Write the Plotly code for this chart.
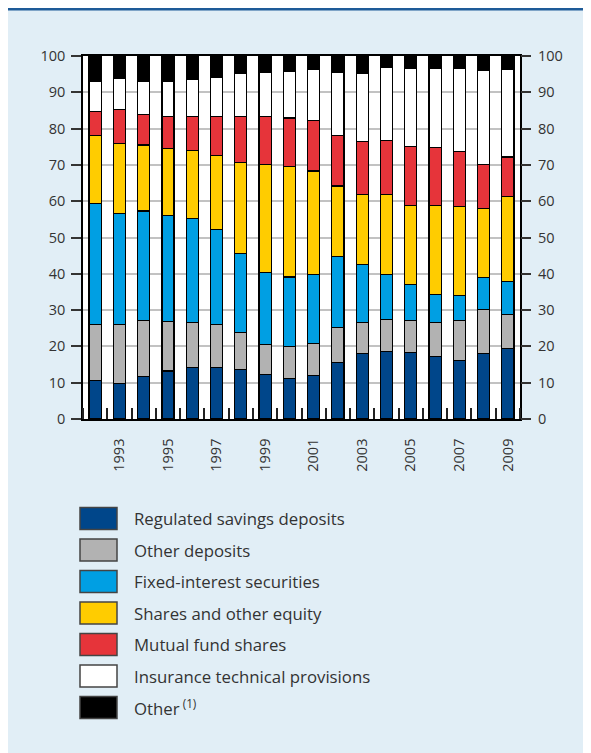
import plotly.graph_objects as go

years = list(range(1992, 2010))
series_names = [
    "Regulated savings deposits",
    "Other deposits",
    "Fixed-interest securities",
    "Shares and other equity",
    "Mutual fund shares",
    "Insurance technical provisions",
    "Other<sup> (1)</sup>",
]
regulated = [10.6, 9.8, 11.7, 13.2, 14.2, 14.2, 13.7, 12.3, 11.2, 11.9, 15.6, 18.0, 18.6, 18.3, 17.3, 16.1, 18.0, 19.4]
other_dep = [15.5, 16.3, 15.5, 13.7, 12.3, 11.8, 10.2, 8.3, 8.7, 9.0, 9.6, 8.5, 8.8, 8.8, 9.2, 11.1, 12.1, 9.4]
fixed_int = [33.3, 30.6, 30.1, 29.2, 28.7, 26.3, 21.7, 19.7, 19.2, 19.0, 19.5, 16.1, 12.4, 10.0, 7.8, 6.8, 8.9, 9.0]
shares = [18.7, 19.2, 18.2, 18.5, 18.8, 20.2, 25.0, 29.9, 30.4, 28.4, 19.5, 19.3, 22.1, 21.7, 24.5, 24.6, 19.0, 23.5]
mutual = [6.6, 9.3, 8.4, 8.7, 9.4, 10.8, 12.8, 13.1, 13.4, 13.9, 13.9, 14.5, 14.8, 16.2, 16.1, 15.0, 12.2, 10.9]
insurance = [8.4, 8.7, 9.1, 9.7, 10.2, 10.7, 11.9, 12.3, 12.9, 14.1, 17.4, 18.9, 20.1, 21.7, 21.8, 23.0, 25.7, 24.0]
other = [6.9, 6.1, 7.0, 7.0, 6.4, 6.0, 4.7, 4.4, 4.2, 3.7, 4.5, 4.7, 3.2, 3.3, 3.3, 3.4, 4.1, 3.8]
x_tick_labels = [str(y) for y in range(1993, 2010, 2)]
y_ticks = list(range(0, 101, 10))

colors = ["#00468A", "#B2B2B2", "#009FE3", "#FFCC00", "#E6343A", "#FFFFFF", "#000000"]
values = [regulated, other_dep, fixed_int, shares, mutual, insurance, other]

W, H = 591, 753
ML, MR, MT, MB = 75, 79, 48, 342
pw = W - ML - MR
ph = H - MT - MB

fig = go.Figure()
for name, vals, col in zip(series_names, values, colors):
    fig.add_trace(go.Bar(
        x=years, y=vals, name=name, width=0.5,
        marker=dict(color=col, line=dict(color="#000000", width=1.2)),
        showlegend=False,
    ))

# invisible trace for right axis
fig.add_trace(go.Scatter(x=[years[0]], y=[0], yaxis="y2", mode="markers",
                         marker=dict(opacity=0), showlegend=False, hoverinfo="skip"))

font_col = "#333333"
tick_font = dict(size=14.5, color=font_col, family="Open Sans")
fig.update_layout(
    width=W, height=H,
    paper_bgcolor="#E1EEF6",
    plot_bgcolor="#FFFFFF",
    barmode="stack",
    margin=dict(l=ML, r=MR, t=MT, b=MB),
    font=dict(family="Open Sans", color=font_col, size=14),
    xaxis=dict(
        range=[1991.5, 2009.5],
        tickmode="array",
        tickvals=[int(t) for t in x_tick_labels],
        ticktext=x_tick_labels,
        tickangle=-90,
        ticks="",
        ticklabelstandoff=12,
        showgrid=False,
        showline=True, linecolor="#000000", linewidth=1.5, mirror=True,
        minor=dict(ticks="inside", tick0=1991.5, dtick=1, ticklen=11,
                   tickcolor="#222222", tickwidth=1.5, showgrid=False),
        tickfont=tick_font,
        zeroline=False,
    ),
    yaxis=dict(
        range=[0, 100],
        tickvals=y_ticks,
        ticks="outside", ticklen=10, tickcolor="#333333", tickwidth=1.5,
        ticklabelstandoff=3,
        showgrid=True, gridcolor="#C2C2C2", gridwidth=1.5,
        showline=True, linecolor="#000000", linewidth=1.5, mirror=True,
        tickfont=tick_font,
        zeroline=False,
    ),
    yaxis2=dict(
        range=[0, 100],
        overlaying="y", side="right",
        tickvals=y_ticks,
        ticks="outside", ticklen=10, tickcolor="#333333", tickwidth=1.5,
        ticklabelstandoff=4,
        showgrid=False, zeroline=False,
        tickfont=tick_font,
    ),
)


def px(x):
    return (x - ML) / pw


def py(y):
    return (H - MB - y) / ph


shapes = [
    dict(type="line", xref="paper", yref="paper",
         x0=px(0), x1=px(W), y0=py(1.2), y1=py(1.2),
         line=dict(color="#1E5B98", width=2.5)),
]

annotations = []
row0 = 510.5
dy = 31.5
for i, (name, col) in enumerate(zip(series_names, colors)):
    yc = row0 + i * dy
    shapes.append(dict(type="rect", xref="paper", yref="paper",
                       x0=px(72), x1=px(109), y0=py(yc - 11), y1=py(yc + 11),
                       fillcolor=col, line=dict(color="#444444", width=1.5)))
    annotations.append(dict(xref="paper", yref="paper", x=px(124), y=py(yc),
                            text=name, showarrow=False, xanchor="left", yanchor="middle",
                            font=dict(size=16.8, color=font_col, family="Open Sans")))

fig.update_layout(shapes=shapes, annotations=annotations)
fig.write_html("out.html")
